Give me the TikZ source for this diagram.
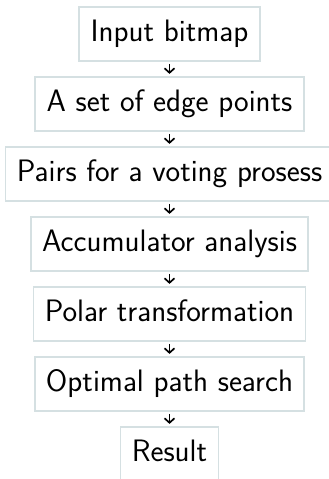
\documentclass[tikz,border=0pt]{standalone}
\usetikzlibrary{arrows.meta}
\definecolor{boxline}{RGB}{213,224,226}
\begin{document}
\begin{tikzpicture}[x=1pt,y=1pt,
  stage/.style={draw=boxline, line width=1.8pt, font=\sffamily\fontsize{31}{36}\selectfont,
    inner xsep=11.3pt, inner ysep=0pt, text height=21.5pt, text depth=7pt,
    minimum height=54pt, anchor=center},
  flow/.style={draw=black, line width=1.7pt, shorten <=2pt, shorten >=2.2pt,
    -{Straight Barb[length=4.5pt, width=10pt]}}]
\useasboundingbox (0,0) rectangle (329,479);
\begin{scope}
\clip (0,0) rectangle (329,479);
\node[stage] (n1) at (169.5,445) {Input bitmap};
\node[stage] (n2) at (169.5,375) {A set of edge points};
\node[stage] (n3) at (169.5,305) {Pairs for a voting prosess};
\node[stage] (n4) at (169.5,235) {Accumulator analysis};
\node[stage] (n5) at (169.5,165) {Polar transformation};
\node[stage] (n6) at (169.5,95) {Optimal path search};
\node[stage] (n7) at (169.5,25) {Result};
\foreach \a/\b in {n1/n2,n2/n3,n3/n4,n4/n5,n5/n6,n6/n7}{
  \draw[flow] (\a) -- (\b);
}
\end{scope}
\end{tikzpicture}
\end{document}
